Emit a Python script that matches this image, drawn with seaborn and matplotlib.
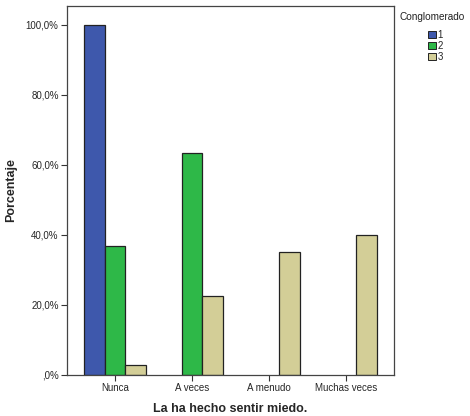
import pandas as pd
import matplotlib.pyplot as plt
import seaborn as sns
from matplotlib.patches import Patch

# data
categorias = ["Nunca", "A veces", "A menudo", "Muchas veces"]
conglomerados = ["1", "2", "3"]
porc_c1 = [100.0, 0.0, 0.0, 0.0]
porc_c2 = [36.7, 63.3, 0.0, 0.0]
porc_c3 = [2.6, 22.5, 35.0, 40.0]
y_ticks = [0, 20, 40, 60, 80, 100]
y_labels = [",0%", "20,0%", "40,0%", "60,0%", "80,0%", "100,0%"]

colores = ["#3E58AC", "#2EB848", "#D3CE97"]

rows = []
for c, vals in zip(conglomerados, [porc_c1, porc_c2, porc_c3]):
    for cat, v in zip(categorias, vals):
        rows.append({"cat": cat, "cong": c, "pct": v if v > 0 else None})
df = pd.DataFrame(rows)

sns.set_theme(style="white")
plt.rcParams["font.family"] = ["Liberation Sans", "DejaVu Sans"]

fig = plt.figure(figsize=(4.7, 4.16), dpi=100)
ax = fig.add_axes([67 / 470, 1 - 374.5 / 416, (394 - 67) / 470, (374.5 - 6) / 416])

sns.barplot(data=df, x="cat", y="pct", hue="cong", order=categorias,
            hue_order=conglomerados, palette=colores, width=0.81,
            edgecolor="#222222", linewidth=0.9, saturation=1,
            errorbar=None, ax=ax, legend=False)

ax.set_xlim(-0.625, 3.625)
ax.set_ylim(0, 105.3)
ax.set_yticks(y_ticks)
ax.set_yticklabels(y_labels)
ax.tick_params(axis="both", direction="out", length=4, width=0.8,
               color="#333333", labelsize=7, pad=2, left=True, bottom=True)
ax.set_ylabel("Porcentaje", fontsize=9, fontweight="bold", labelpad=6)
ax.set_xlabel("La ha hecho sentir miedo.", fontsize=9, fontweight="bold", labelpad=7)
for sp in ax.spines.values():
    sp.set_color("#444444")
    sp.set_linewidth(0.9)

# legend: title on its own, handles indented like SPSS
fig.text(400 / 470, 1 - 17 / 416, "Conglomerado", fontsize=7.2,
         ha="left", va="center", color="#222222")
handles = [Patch(facecolor=col, edgecolor="#222222", linewidth=0.7, label=c)
           for col, c in zip(colores, conglomerados)]
leg = fig.legend(handles=handles, loc="upper left",
                 bbox_to_anchor=(421 / 470, 1 - 23 / 416), frameon=False,
                 fontsize=7, handlelength=0.8, handleheight=0.8,
                 handletextpad=0.2, labelspacing=0.1, borderpad=0.2)

fig.savefig("out.png", dpi=100)
